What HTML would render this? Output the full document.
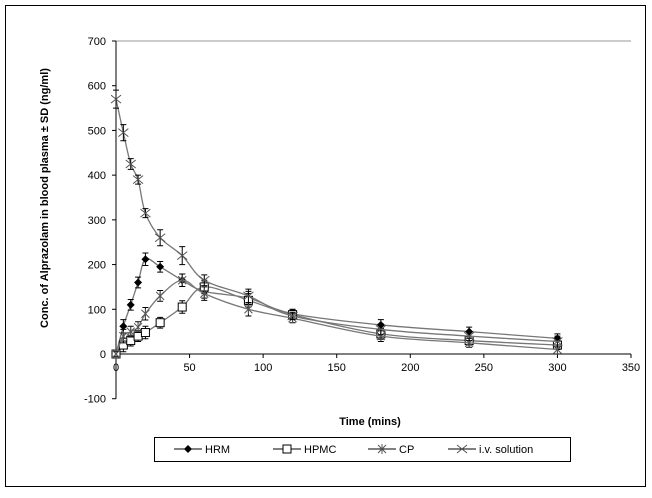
<!DOCTYPE html>
<html><head><meta charset="utf-8"><style>
body{margin:0;background:#fff;font-family:"Liberation Sans",sans-serif}
svg text{font-family:"Liberation Sans",sans-serif}
</style></head><body>
<svg id="c" width="652" height="493">
<rect x="5.5" y="5.5" width="640" height="481" fill="#fff" stroke="#000"/>
<g id="g"></g>
<text transform="translate(48,198) rotate(-90)" text-anchor="middle" font-size="11" font-weight="bold">Conc. of Alprazolam in blood plasma ± SD (ng/ml)</text>
<text x="370" y="425" text-anchor="middle" font-size="11" font-weight="bold">Time (mins)</text>
<g>
<rect x="154.5" y="437.5" width="416" height="24" fill="#fff" stroke="#000"/>
<g id="lg"></g>
</g>
</svg>
<script>
const times=[0,5,10,15,20,30,45,60,90,120,180,240,300];
const hrm=[0,62,110,160,212,195,165,140,125,90,65,50,35];
const hpmc=[0,20,30,40,48,70,105,150,120,88,45,30,20];
const cp=[0,40,50,60,90,130,165,135,100,80,40,25,10];
const iv=[570,495,425,390,315,260,220,165,130,85,55,40,28];
const err=[6,15,12,12,14,12,14,15,15,10,12,10,10];
const ivErr=[20,18,12,10,10,18,20,12,15,8,12,10,12];
const yTicks=[-100,0,100,200,300,400,500,600,700];
const xTicks=[0,50,100,150,200,250,300,350];
const X=v=>116+v*(631-116)/350, Y=v=>354-v*(354-41)/700;
const NS='http://www.w3.org/2000/svg';
const g=document.getElementById('g');
function mk(t,a,p){const e=document.createElementNS(NS,t);for(const k in a)e.setAttribute(k,a[k]);(p||g).appendChild(e);return e;}
let e=mk('line',{x1:116,y1:41,x2:631,y2:41,stroke:'#999'});

e=mk('line',{x1:116,y1:41,x2:116,y2:Y(-100),stroke:'#000'});

e=mk('line',{x1:116,y1:Y(0),x2:631,y2:Y(0),stroke:'#000'});

yTicks.forEach(v=>{mk('line',{x1:112,x2:116,y1:Y(v),y2:Y(v),stroke:'#000'});
 e=mk('text',{x:106,y:Y(v)+4,'text-anchor':'end','font-size':11});e.textContent=v;
 });
xTicks.forEach(v=>{mk('line',{x1:X(v),x2:X(v),y1:Y(0),y2:Y(0)+4,stroke:'#000'});
 e=mk('text',{x:X(v),y:Y(0)+17,'text-anchor':'middle','font-size':11});e.textContent=v;
 });
function path(pts){let d=`M${pts[0][0]},${pts[0][1]}`;for(let i=0;i<pts.length-1;i++){const p0=pts[i-1]||pts[i],p1=pts[i],p2=pts[i+1],p3=pts[i+2]||p2;
 d+=`C${p1[0]+(p2[0]-p0[0])/6},${p1[1]+(p2[1]-p0[1])/6} ${p2[0]-(p3[0]-p1[0])/6},${p2[1]-(p3[1]-p1[1])/6} ${p2[0]},${p2[1]}`;}return d;}
function marker(type,x,y,p){
 if(type==='d')mk('path',{d:`M${x},${y-4}L${x+4},${y}L${x},${y+4}L${x-4},${y}Z`,fill:'#000'},p);
 else if(type==='s')mk('rect',{x:x-4,y:y-4,width:8,height:8,fill:'#fff',stroke:'#000'},p);
 else if(type==='a'){mk('path',{d:`M${x-4},${y-4}L${x+4},${y+4}M${x+4},${y-4}L${x-4},${y+4}M${x},${y-5}V${y+5}`,stroke:'#555'},p);}
 else mk('path',{d:`M${x-5},${y-4}L${x+5},${y+4}M${x+5},${y-4}L${x-5},${y+4}`,stroke:'#555'},p);}
const series=[['hrm',hrm,err,'d'],['hpmc',hpmc,err,'s'],['cp',cp,err,'a'],['iv',iv,ivErr,'x']];
series.forEach(([n,vals,er,m])=>{const sg=mk('g',{});
 
 const pts=times.map((t,i)=>[X(t),Y(vals[i])]);
 mk('path',{d:path(pts),fill:'none',stroke:'#777','stroke-width':1.3},sg);
 times.forEach((t,i)=>{const x=X(t);mk('path',{d:`M${x},${Y(vals[i]-er[i])}V${Y(vals[i]+er[i])}M${x-3},${Y(vals[i]-er[i])}h6M${x-3},${Y(vals[i]+er[i])}h6`,stroke:'#000'},sg);
  marker(m,x,Y(vals[i]),sg);});});
const lg=document.getElementById('lg');
[['HRM','d',188],['HPMC','s',287],['CP','a',382],['i.v. solution','x',462]].forEach(([t,m,x])=>{
 mk('line',{x1:x-14,x2:x+14,y1:449,y2:449,stroke:'#000'},lg);marker(m,x,449,lg);
 const tx=mk('text',{x:x+17,y:453,'font-size':11},lg);tx.textContent=t;
 });
</script>
</body></html>
